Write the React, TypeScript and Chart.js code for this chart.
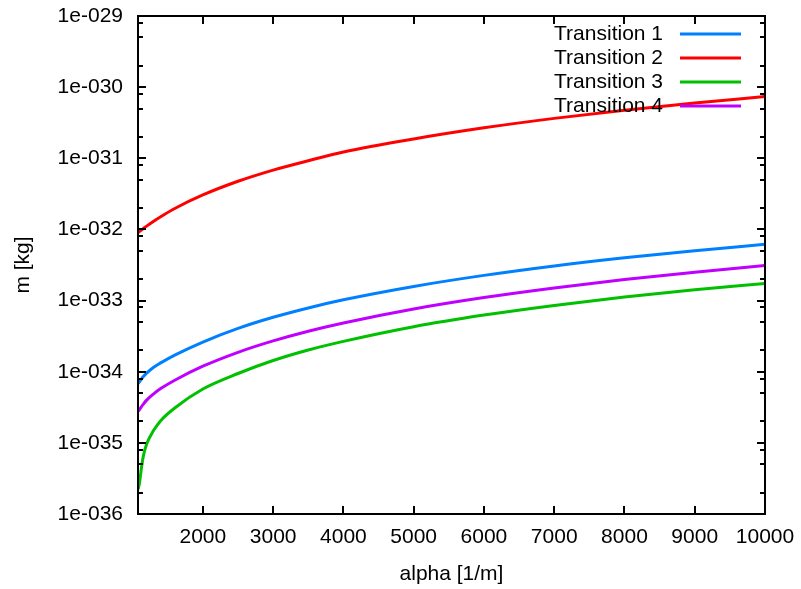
import { useEffect, useRef } from "react";
import { Chart, registerables } from "chart.js";

Chart.register(...registerables);

// ---- data ----
const alphaValues = [1080, 1100, 1120, 1150, 1200, 1300, 1400, 1600, 2000, 2500, 3000, 3500, 4000, 5000, 6000, 7000, 8000, 9000, 10000];

const transition1 = [6.82e-35, 7.28e-35, 7.74e-35, 8.48e-35, 9.53e-35, 1.156e-34, 1.33e-34, 1.71e-34, 2.61e-34, 4.06e-34, 5.82e-34, 7.88e-34, 1.025e-33, 1.58e-33, 2.26e-33, 3.07e-33, 3.99e-33, 5.02e-33, 6.18e-33];
const transition2 = [9.05e-33, 9.38e-33, 9.72e-33, 1.023e-32, 1.113e-32, 1.305e-32, 1.51e-32, 1.97e-32, 3.05e-32, 4.75e-32, 6.82e-32, 9.24e-32, 1.225e-31, 1.87e-31, 2.68e-31, 3.64e-31, 4.74e-31, 5.98e-31, 7.36e-31];
const transition3 = [2.24e-36, 2.81e-36, 4.02e-36, 6.3e-36, 9.6e-36, 1.5e-35, 2.05e-35, 3.09e-35, 5.71e-35, 9.44e-35, 1.437e-34, 2.02e-34, 2.67e-34, 4.29e-34, 6.25e-34, 8.55e-34, 1.122e-33, 1.422e-33, 1.738e-33];
const transition4 = [2.76e-35, 2.96e-35, 3.16e-35, 3.47e-35, 3.99e-35, 4.89e-35, 5.79e-35, 7.59e-35, 1.194e-34, 1.874e-34, 2.71e-34, 3.71e-34, 4.85e-34, 7.63e-34, 1.104e-33, 1.507e-33, 1.977e-33, 2.5e-33, 3.11e-33];

const seriesLabels = ["Transition 1", "Transition 2", "Transition 3", "Transition 4"];
const seriesValues = [transition1, transition2, transition3, transition4];
const seriesColors = ["#0080ff", "#ff0000", "#00c000", "#c000ff"];

const xTickValues = [2000, 3000, 4000, 5000, 6000, 7000, 8000, 9000, 10000];
const xMin = 1077;
const xMax = 10000;
const yDecadeExponents = [-36, -35, -34, -33, -32, -31, -30, -29];
const yMinorFactors = [2, 5, 8];

const FONT = '"Liberation Sans", Arial, sans-serif';
const FONT_SIZE = 21;

const framePlugin = {
  id: "gnuplotFrame",
  afterDatasetsDraw(chart: any) {
    const { ctx, chartArea, scales } = chart;
    const { left, right, top, bottom } = chartArea;
    const xs = scales.x;
    const ys = scales.y;
    ctx.save();
    ctx.strokeStyle = "#000";
    ctx.lineWidth = 2;
    ctx.beginPath();
    for (const v of xTickValues) {
      const px = Math.round(xs.getPixelForValue(v));
      ctx.moveTo(px, bottom);
      ctx.lineTo(px, bottom - 8);
      ctx.moveTo(px, top);
      ctx.lineTo(px, top + 8);
    }
    const yMaxVal = Number(`1e${yDecadeExponents[yDecadeExponents.length - 1]}`);
    for (const e of yDecadeExponents) {
      const base = Number(`1e${e}`);
      const py = Math.round(ys.getPixelForValue(base));
      ctx.moveTo(left, py);
      ctx.lineTo(left + 8, py);
      ctx.moveTo(right, py);
      ctx.lineTo(right - 8, py);
      for (const f of yMinorFactors) {
        const v = f * base;
        if (v >= yMaxVal) continue;
        const pm = Math.round(ys.getPixelForValue(v));
        ctx.moveTo(left, pm);
        ctx.lineTo(left + 5, pm);
        ctx.moveTo(right, pm);
        ctx.lineTo(right - 5, pm);
      }
    }
    ctx.stroke();
    ctx.strokeRect(left, top, right - left, bottom - top);

    // legend (gnuplot style: text right-aligned, sample line to the right)
    ctx.font = `${FONT_SIZE}px ${FONT}`;
    ctx.textAlign = "right";
    ctx.textBaseline = "middle";
    chart.data.datasets.forEach((ds: any, i: number) => {
      const rowY = top + 18 + i * 24;
      ctx.fillStyle = "#000";
      ctx.fillText(ds.label, right - 102, rowY);
      ctx.strokeStyle = ds.borderColor;
      ctx.lineWidth = 3;
      ctx.beginPath();
      ctx.moveTo(right - 85, rowY);
      ctx.lineTo(right - 24, rowY);
      ctx.stroke();
    });
    ctx.restore();
  },
};

export default function App() {
  const canvasRef = useRef<HTMLCanvasElement | null>(null);

  useEffect(() => {
    if (!canvasRef.current) return;
    const chart = new Chart(canvasRef.current, {
      type: "line",
      data: {
        datasets: seriesLabels.map((label, s) => ({
          label,
          data: alphaValues.map((a, i) => ({ x: a, y: seriesValues[s][i] })),
          borderColor: seriesColors[s],
          backgroundColor: seriesColors[s],
          borderWidth: 3,
          pointRadius: 0,
          fill: false,
          cubicInterpolationMode: "monotone" as const,
        })),
      },
      options: {
        animation: false,
        responsive: false,
        devicePixelRatio: 1,
        layout: { padding: { left: 0, top: 16, right: 36, bottom: 0 } },
        plugins: {
          legend: { display: false },
          tooltip: { enabled: false },
        },
        scales: {
          x: {
            type: "linear",
            min: xMin,
            max: xMax,
            grid: { display: false, drawTicks: false },
            border: { display: false },
            afterBuildTicks: (scale: any) => {
              scale.ticks = xTickValues.map((v) => ({ value: v }));
            },
            afterFit: (scale: any) => {
              scale.height = 75;
              scale.paddingLeft = 0;
              scale.paddingRight = 0;
            },
            ticks: {
              autoSkip: false,
              maxRotation: 0,
              padding: 11,
              color: "#000",
              font: { family: FONT, size: FONT_SIZE },
              callback: (v: any) => String(v),
            },
            title: {
              display: true,
              text: "alpha [1/m]",
              color: "#000",
              font: { family: FONT, size: FONT_SIZE },
              padding: { top: 0, bottom: 2 },
            },
          },
          y: {
            type: "logarithmic",
            min: 1e-36,
            max: 1e-29,
            grid: { display: false, drawTicks: false },
            border: { display: false },
            afterBuildTicks: (scale: any) => {
              scale.ticks = yDecadeExponents.map((e) => ({ value: Number(`1e${e}`) }));
            },
            afterFit: (scale: any) => {
              scale.width = 138;
              scale.paddingTop = 0;
              scale.paddingBottom = 0;
            },
            ticks: {
              autoSkip: false,
              padding: 15,
              color: "#000",
              font: { family: FONT, size: FONT_SIZE },
              callback: (v: any) => {
                const e = Math.round(Math.log10(Number(v)));
                return `1e-${String(-e).padStart(3, "0")}`;
              },
            },
            title: {
              display: true,
              text: "m [kg]",
              color: "#000",
              font: { family: FONT, size: FONT_SIZE },
              padding: { top: 11, bottom: 0 },
            },
          },
        },
      },
      plugins: [framePlugin],
    });
    return () => chart.destroy();
  }, []);

  return (
    <div style={{ position: "absolute", left: 0, top: 0, width: 801, height: 589, background: "#fff" }}>
      <canvas ref={canvasRef} width={801} height={589} style={{ display: "block" }} />
    </div>
  );
}
